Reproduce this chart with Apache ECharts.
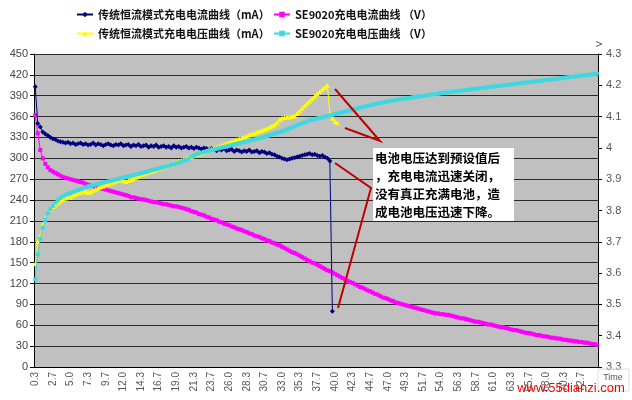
<!DOCTYPE html>
<html><head><meta charset="utf-8">
<script src="https://cdn.jsdelivr.net/npm/echarts@6/dist/echarts.min.js"></script>
<style>html,body{margin:0;padding:0;background:#fff}#c{width:632px;height:400px}</style>
</head><body><div id="c"></div>
<script>
// time axis: samples every 1/3 minute
const categoryCount = 224;
const timeStepMin = 1 / 3;
const timeCategories = [];
for (let i = 1; i <= categoryCount; i++) timeCategories.push((i * timeStepMin).toFixed(1));

const seriesNames = [
  '传统恒流模式充电电流曲线（mA）',
  'SE9020充电电流曲线 （V）',
  '传统恒流模式充电电压曲线（mA）',
  'SE9020充电电压曲线 （V）'
];

// conventional CC charge current (mA), left axis
const conventionalCurrent = [
  403,350,345,338,335,333,330,328,327,325,
  324,323,322,323,321,322,320,321,322,320,
  321,319,320,322,319,321,320,318,320,321,
  319,318,320,319,321,318,319,320,317,319,
  318,320,317,318,319,316,318,317,319,316,
  317,318,316,317,315,318,316,317,315,316,
  317,315,316,314,316,315,313,315,314,312,
  314,313,311,313,312,314,311,312,313,310,
  312,311,309,311,310,312,309,310,311,308,
  310,309,307,308,306,305,303,302,300,299,
  298,299,300,301,302,303,304,305,306,307,
  305,306,304,303,304,302,300,296,80
];

// SE9020 charge current, left axis
const se9020Current = [
  362,336,312,300,292,287,283,281,279,277,
  275,273,272,271,270,269,268,267,266,265,
  263,262,261,260,259,258,257,256,255,254,
  253,252,251,250,249,248,247,246,244,244,
  243,242,241,241,240,239,238,237,237,236,
  235,234,234,233,232,231,231,230,229,228,
  227,226,224,223,222,220,219,218,216,215,
  213,212,211,209,208,206,205,204,202,201,
  199,198,197,195,194,192,191,189,188,187,
  185,184,182,181,179,178,176,175,173,171,
  169,167,165,164,162,160,158,156,154,152,
  150,149,147,145,143,141,139,138,136,134,
  132,130,128,126,124,122,121,119,117,115,
  114,112,110,109,107,105,104,102,100,99,
  98,96,95,93,92,91,90,89,88,87,
  86,85,84,83,82,81,80,79,78,77,
  77,76,76,75,75,74,73,72,71,70,
  70,69,68,67,66,65,65,64,63,62,
  61,61,60,59,58,57,57,56,55,54,
  53,53,52,51,50,49,49,48,47,46,
  46,45,44,44,43,42,42,41,41,40,
  39,39,38,38,37,37,36,36,35,35,
  34,33,33,32
];

// conventional CC charge voltage (V), right axis
const conventionalVoltage = [
  3.630,3.700,3.720,3.755,3.775,3.790,3.805,3.812,3.818,3.825,
  3.830,3.836,3.840,3.845,3.842,3.848,3.852,3.855,3.858,3.860,
  3.862,3.858,3.860,3.865,3.868,3.872,3.876,3.878,3.882,3.885,
  3.888,3.891,3.894,3.897,3.899,3.895,3.893,3.896,3.898,3.902,
  3.906,3.910,3.914,3.917,3.920,3.923,3.925,3.928,3.930,3.933,
  3.936,3.939,3.942,3.945,3.948,3.951,3.954,3.957,3.960,3.963,
  3.966,3.969,3.972,3.975,3.978,3.981,3.984,3.987,3.990,3.993,
  3.996,3.999,4.002,4.005,4.008,4.011,4.014,4.017,4.020,4.023,
  4.026,4.029,4.032,4.035,4.038,4.041,4.044,4.047,4.050,4.053,
  4.056,4.059,4.062,4.066,4.070,4.074,4.080,4.090,4.095,4.097,
  4.098,4.099,4.100,4.103,4.110,4.118,4.127,4.135,4.143,4.150,
  4.158,4.165,4.172,4.180,4.187,4.194,4.200,4.112,4.095,4.085,
  4.080
];

// SE9020 charge voltage (V), right axis
const se9020Voltage = [
  3.580,3.660,3.710,3.745,3.770,3.790,3.805,3.815,3.825,3.833,
  3.840,3.845,3.850,3.853,3.856,3.859,3.862,3.865,3.868,3.871,
  3.874,3.877,3.879,3.881,3.883,3.885,3.887,3.889,3.891,3.893,
  3.895,3.897,3.899,3.901,3.903,3.905,3.907,3.909,3.911,3.913,
  3.915,3.917,3.919,3.921,3.923,3.926,3.928,3.930,3.932,3.934,
  3.936,3.939,3.941,3.943,3.946,3.948,3.951,3.953,3.956,3.958,
  3.962,3.965,3.972,3.975,3.979,3.982,3.985,3.987,3.989,3.991,
  3.993,3.995,3.997,3.999,4.001,4.003,4.005,4.007,4.009,4.011,
  4.013,4.015,4.017,4.019,4.021,4.023,4.025,4.027,4.029,4.031,
  4.033,4.035,4.038,4.040,4.043,4.045,4.048,4.050,4.053,4.055,
  4.059,4.062,4.066,4.069,4.073,4.076,4.079,4.082,4.085,4.088,
  4.090,4.092,4.094,4.096,4.098,4.100,4.102,4.104,4.106,4.108,
  4.110,4.112,4.114,4.116,4.118,4.120,4.122,4.124,4.126,4.128,
  4.130,4.132,4.134,4.136,4.138,4.140,4.142,4.144,4.145,4.147,
  4.148,4.150,4.151,4.153,4.154,4.155,4.157,4.158,4.159,4.160,
  4.162,4.163,4.164,4.165,4.166,4.167,4.169,4.170,4.171,4.172,
  4.173,4.174,4.176,4.177,4.178,4.179,4.180,4.181,4.182,4.183,
  4.184,4.185,4.186,4.187,4.188,4.189,4.190,4.191,4.192,4.193,
  4.194,4.195,4.196,4.197,4.198,4.199,4.200,4.201,4.202,4.203,
  4.204,4.205,4.206,4.207,4.208,4.209,4.210,4.211,4.212,4.213,
  4.214,4.215,4.216,4.217,4.218,4.219,4.220,4.221,4.222,4.223,
  4.224,4.225,4.226,4.227,4.228,4.229,4.230,4.231,4.232,4.233,
  4.234,4.235,4.236,4.237
];

const noteLines = ['电池电压达到预设值后', '，充电电流迅速关闭，', '没有真正充满电池，造', '成电池电压迅速下降。'];

const chart = echarts.init(document.getElementById('c'), null, {renderer: 'canvas'});
const baseFont = 'Liberation Sans, Arial, sans-serif';
const cjkFont = 'Noto Sans CJK SC, sans-serif';
const legendText = {fontSize: 11, fontWeight: 'bold', color: '#111', fontFamily: cjkFont};

function lineSeries(idx, data, color, symbol, size, yAxisIndex, z) {
  return {
    name: seriesNames[idx], type: 'line', data: data, yAxisIndex: yAxisIndex,
    symbol: symbol, symbolSize: size, showAllSymbol: true, z: z,
    lineStyle: {width: 1, color: color}, itemStyle: {color: color, borderWidth: 0},
    emphasis: {disabled: true}
  };
}

chart.setOption({
  animation: false,
  backgroundColor: '#ffffff',
  legend: [
    {left: 71, top: 4, orient: 'vertical', itemGap: 8, itemWidth: 16, itemHeight: 7,
     data: [seriesNames[0], seriesNames[2]], textStyle: legendText},
    {left: 268, top: 4, orient: 'vertical', itemGap: 8, itemWidth: 16, itemHeight: 7,
     data: [seriesNames[1], seriesNames[3]], textStyle: legendText}
  ],
  grid: {left: 34, right: 34, top: 54, bottom: 33, show: true, backgroundColor: '#C0C0C0', borderWidth: 0},
  xAxis: {
    type: 'category', data: timeCategories, boundaryGap: true,
    axisLine: {lineStyle: {color: '#000', width: 1}},
    axisTick: {interval: 0, inside: true, length: 3, lineStyle: {color: '#222'}},
    axisLabel: {interval: 6, rotate: 90, fontSize: 10, color: '#555', margin: 5, fontFamily: baseFont},
    splitLine: {show: false}
  },
  yAxis: [
    {type: 'value', min: 0, max: 450, interval: 30, position: 'left',
     axisLine: {show: true, lineStyle: {color: '#000'}},
     axisTick: {show: true, length: 4, lineStyle: {color: '#000'}},
     axisLabel: {fontSize: 11, color: '#444', margin: 6, fontFamily: baseFont},
     splitLine: {show: true, lineStyle: {color: '#2a2a2a', width: 1}}},
    {type: 'value', min: 3.3, max: 4.3, interval: 0.1, position: 'right',
     axisLine: {show: true, lineStyle: {color: '#000'}},
     axisTick: {show: true, length: 4, lineStyle: {color: '#000'}},
     axisLabel: {fontSize: 11, color: '#555', margin: 8, fontFamily: baseFont,
       formatter: v => String(Math.round(v * 10) / 10)},
     splitLine: {show: false}}
  ],
  series: [
    lineSeries(0, conventionalCurrent, '#000080', 'diamond', 5, 0, 4),
    lineSeries(1, se9020Current, '#FF00FF', 'rect', 4, 0, 3),
    lineSeries(2, conventionalVoltage, '#FFFF00', 'triangle', 5, 1, 5),
    lineSeries(3, se9020Voltage, '#40D8E0', 'rect', 4, 1, 6)
  ],
  graphic: [
    {type: 'polyline', z: 100, shape: {points: [[335, 89], [380, 141], [345, 128]]},
     style: {stroke: '#C00000', lineWidth: 2, fill: null}},
    {type: 'polyline', z: 100, shape: {points: [[335, 163], [371, 188], [338, 308]]},
     style: {stroke: '#C00000', lineWidth: 2, fill: null}},
    {type: 'rect', z: 100, shape: {x: 373, y: 148, width: 141, height: 73}, style: {fill: '#fff'}},
    {type: 'text', z: 101, left: 375, top: 149,
     style: {text: noteLines.join('\n'), font: 'bold 12.5px "Noto Sans CJK SC"', lineHeight: 18, fill: '#000'}},
    {type: 'text', z: 101, x: 600, y: 44, rotation: Math.PI / 2,
     style: {text: 'V', font: '9px "Liberation Sans"', fill: '#555', align: 'center', verticalAlign: 'middle'}},
    {type: 'rect', z: 100, shape: {x: 598, y: 369, width: 31, height: 22}, style: {fill: 'rgba(255,255,255,0)', stroke: '#ddd', lineWidth: 1}},
    {type: 'text', z: 101, x: 613, y: 378,
     style: {text: 'Time', font: '9px "Liberation Sans"', fill: '#555', align: 'center', verticalAlign: 'middle'}},
    {type: 'text', z: 102, x: 571, y: 388,
     style: {text: 'www.55dianzi.com', font: '13px "Liberation Sans"', fill: '#FF0000', align: 'center', verticalAlign: 'middle'}}
  ]
});
</script></body></html>
